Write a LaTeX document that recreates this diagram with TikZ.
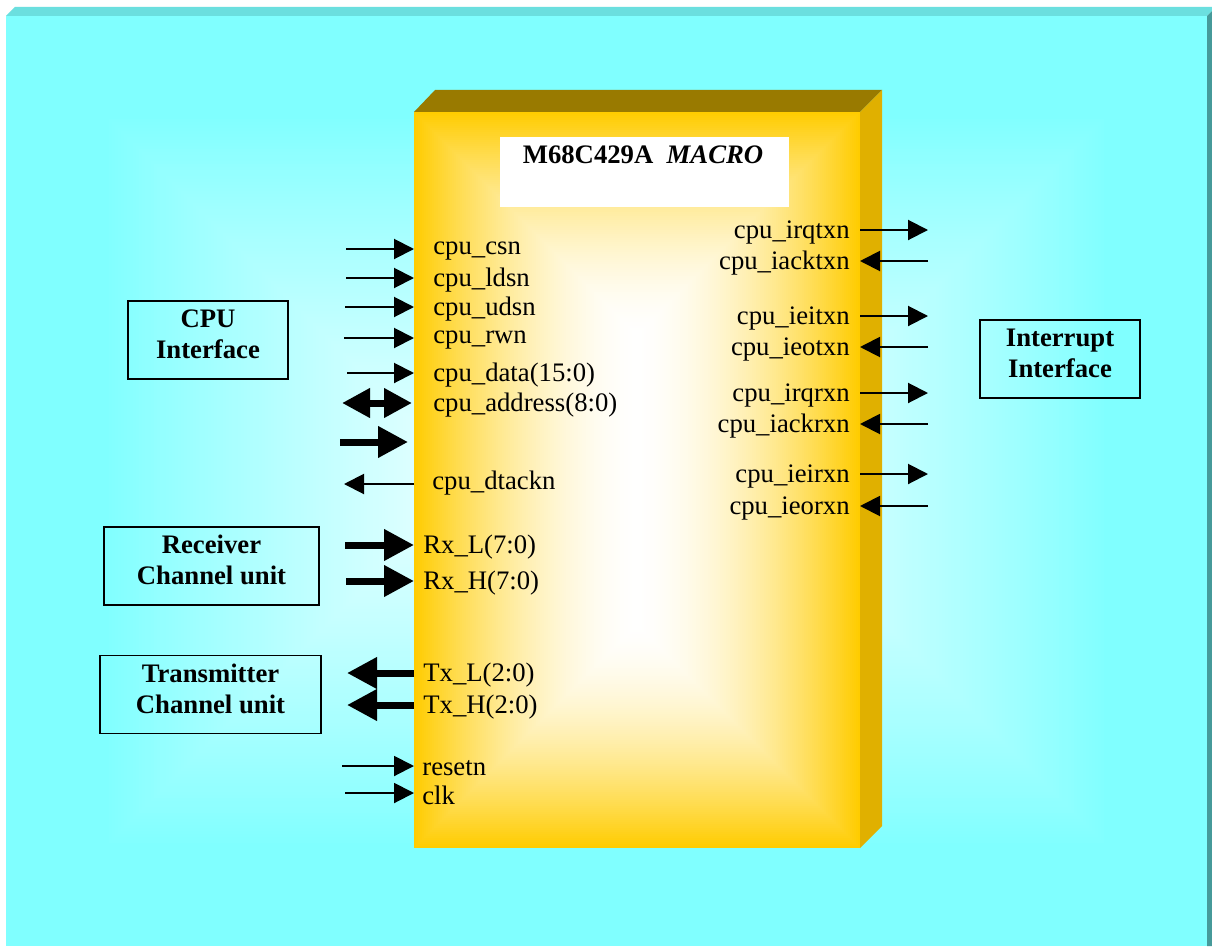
\documentclass[tikz,border=0pt]{standalone}
\usepackage{fontspec}
\setmainfont{Liberation Serif}
\usepackage{xcolor}
\usepackage{tikz}
\usetikzlibrary{arrows.meta}

\definecolor{macgold}{HTML}{FFCC00}
\definecolor{macgoldtop}{HTML}{997A00}
\definecolor{macgoldside}{HTML}{E0B000}
\definecolor{bgcyan}{HTML}{80FFFF}
\definecolor{bgcyantop}{HTML}{6BDFDF}
\definecolor{bgcyanside}{HTML}{469A9A}

\tikzset{
  thinsig/.style={line width=0.04cm, -{Triangle[length=0.4cm, width=0.4cm]}},
  thicksig/.style={line width=0.14cm, -{Triangle[length=0.6cm, width=0.6cm]}},
  bisig/.style={line width=0.14cm, {Triangle[length=0.56cm, width=0.56cm]}-{Triangle[length=0.56cm, width=0.56cm]}},
  siglabel/.style={inner sep=0pt, yshift=-0.05cm, font=\fontsize{15.2}{18}\selectfont},
  iface/.style={draw=black, line width=0.03cm, align=center, inner sep=0pt,
    minimum height=1.56cm, text depth=0.24cm, font=\fontsize{15.2}{17.6}\selectfont\bfseries}
}

\begin{document}
\begin{tikzpicture}[x=0.02cm, y=-0.02cm]
	\useasboundingbox (0,0) rectangle (1212,946);
	\fill [white] (0,0) rectangle (1212,946);

	% background slab, lighter towards the middle
	\fill [bgcyantop] (6,16) -- (15,7) -- (1212,7) -- (1212,11) -- (1207,16) -- cycle;
	\fill [bgcyanside] (1207,16) -- (1212,11) -- (1212,946) -- (1207,946) -- cycle;
	\fill [bgcyan] (6,16) rectangle (1207,946);
	\foreach \d in {103,106,...,462} {
		\pgfmathsetmacro\q{100*(1-0.85*pow((\d-100)/365,0.9))}
		\fill [bgcyan!\q!white] (6+\d,16+\d) rectangle (1207-\d,946-\d);
	}

	% the macro block
	\coordinate (body-nw) at (414,112);
	\coordinate (body-se) at (860,848);
	\fill [macgoldtop] (body-nw) -- (435,90) -- (882,90) -- (860,112) -- cycle;
	\fill [macgoldside] (860,112) -- (882,90) -- (882,826) -- (body-se) -- cycle;
	\foreach \d in {0,2,...,222} {
		\pgfmathsetmacro\p{100*pow(1-\d/230,1.8)}
		\fill [macgold!\p!white] (414+\d,112+\d) rectangle (860-\d,848-\d);
	}

	\node [fill=white, minimum width=5.78cm, minimum height=1.4cm, inner sep=0pt] (title) at (644.5,172) {};
	\node [inner sep=0pt, font=\fontsize{15.2}{18}\selectfont\bfseries] (titletext) at (643,155) {M68C429A\ \ \textit{MACRO}};

	% interface boxes
	\node [iface, minimum width=3.2cm] (cpuif) at (208,340) {CPU\\Interface};
	\node [iface, minimum width=4.3cm] (rxif) at (211.5,566) {Receiver\\Channel unit};
	\node [iface, minimum width=4.42cm] (txif) at (210.5,694.5) {Transmitter\\Channel unit};
	\node [iface, minimum width=3.2cm] (intif) at (1060,359) {Interrupt\\Interface};

	% cpu side inputs
	\foreach \n/\x/\y/\t in {csn/346/249/cpu\_csn, ldsn/346/278/cpu\_ldsn, udsn/345/307/cpu\_udsn,
		rwn/344/338/cpu\_rwn, data/347/373/cpu\_data(15:0)} {
		\coordinate (\n-src) at (\x,\y);
		\draw [thinsig] (\n-src) -- (\n-src -| body-nw);
		\node [siglabel, anchor=west] (\n) at (433,\y) {\t};
	}

	\coordinate (address-src) at (342,403);
	\draw [bisig] (address-src) -- (412,403);
	\node [siglabel, anchor=west] (address) at (433,403) {cpu\_address(8:0)};

	\coordinate (spare-src) at (340,442);
	\coordinate (spare-dst) at (408,442);
	\draw [thicksig] (spare-src) -- (spare-dst);

	\coordinate (dtackn-dst) at (344,484);
	\draw [thinsig] (dtackn-dst -| body-nw) -- (dtackn-dst);
	\node [siglabel, anchor=west] (dtackn) at (432,481) {cpu\_dtackn};

	% channel units
	\foreach \n/\x/\y/\t in {rxl/345/545/Rx\_L(7:0), rxh/346/581/Rx\_H(7:0)} {
		\coordinate (\n-src) at (\x,\y);
		\draw [thicksig] (\n-src) -- (\n-src -| body-nw);
		\node [siglabel, anchor=west] (\n) at (423,\y) {\t};
	}
	\foreach \n/\x/\y/\t in {txl/347/673/Tx\_L(2:0), txh/347/705/Tx\_H(2:0)} {
		\coordinate (\n-dst) at (\x,\y);
		\draw [thicksig] (\n-dst -| body-nw) -- (\n-dst);
		\node [siglabel, anchor=west] (\n) at (423,\y) {\t};
	}

	% reset and clock
	\foreach \n/\x/\y in {resetn/342/766, clk/345/793} {
		\coordinate (\n-src) at (\x,\y);
		\draw [thinsig] (\n-src) -- (\n-src -| body-nw);
		\node [siglabel, anchor=west] (\n) at (422,\y) {\n};
	}

	% interrupt side
	\foreach \n/\y in {irqtxn/230, ieitxn/316, irqrxn/393, ieirxn/474} {
		\coordinate (\n-dst) at (928,\y);
		\draw [thinsig] (\n-dst -| body-se) -- (\n-dst);
		\node [siglabel, anchor=east] (\n) at (850,\y) {cpu\_\n};
	}
	\foreach \n/\y in {iacktxn/261, ieotxn/347, iackrxn/424, ieorxn/506} {
		\coordinate (\n-src) at (928,\y);
		\draw [thinsig] (\n-src) -- (\n-src -| body-se);
		\node [siglabel, anchor=east] (\n) at (850,\y) {cpu\_\n};
	}
\end{tikzpicture}
\end{document}
